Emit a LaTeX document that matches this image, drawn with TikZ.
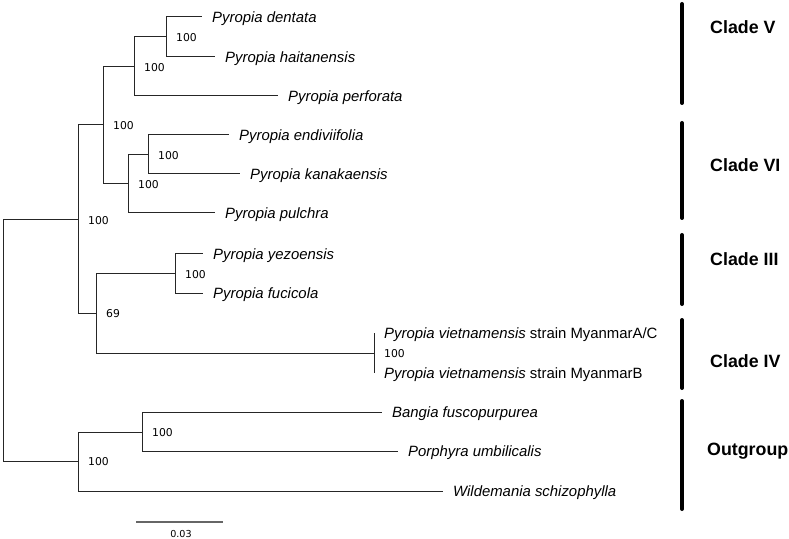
\documentclass[tikz,border=0pt]{standalone}
\usepackage{fontspec}
\setmainfont{Liberation Sans}
\newfontfamily\bootfont{DejaVu Sans}
\begin{document}
\begin{tikzpicture}[x=1bp,y=-1bp,
  branch/.style={draw=black!85,line width=1bp},
  scalebar/.style={draw=black!60,line width=2bp},
  leaf/.style={anchor=west,inner xsep=10bp,inner ysep=0bp,text height=10.7bp,text depth=0bp,font=\fontsize{14.9bp}{16bp}\selectfont\itshape},
  boot/.style={anchor=west,inner sep=0bp,xshift=10bp,yshift=-1bp,font=\fontsize{10.8bp}{12bp}\bootfont},
  cladebar/.style={line width=4bp,line cap=round,black},
  cladelab/.style={anchor=west,inner sep=0bp,font=\fontsize{17.8bp}{19bp}\selectfont\bfseries},
  scalelab/.style={inner sep=0bp,font=\fontsize{9.6bp}{11bp}\bootfont}]
\useasboundingbox (0,0) rectangle (789,539);
% internal nodes
\coordinate (root) at (3,340);
\coordinate (nIn) at (78,220);
\coordinate (nVVI) at (103,125);
\coordinate (nDHP) at (134,67);
\coordinate (nDH) at (166,37);
\coordinate (nEKP) at (128,184);
\coordinate (nEK) at (148,155);
\coordinate (nIIIIV) at (96,313);
\coordinate (nIII) at (175,274);
\coordinate (nViet) at (374,353);
\coordinate (nOut) at (78,461);
\coordinate (nBP) at (142,432);
% leaves
\node[leaf] (dent) at (202,17) {Pyropia dentata};
\node[leaf] (hait) at (215,57) {Pyropia haitanensis};
\node[leaf] (perf) at (278,96) {Pyropia perforata};
\node[leaf] (endi) at (229,135) {Pyropia endiviifolia};
\node[leaf] (kana) at (240,174) {Pyropia kanakaensis};
\node[leaf] (pulc) at (215,213) {Pyropia pulchra};
\node[leaf] (yezo) at (203,254) {Pyropia yezoensis};
\node[leaf] (fuci) at (203,293) {Pyropia fucicola};
\node[leaf] (vietA) at (374,333) {Pyropia vietnamensis\upshape{} strain MyanmarA/C};
\node[leaf] (vietB) at (374,373) {Pyropia vietnamensis\upshape{} strain MyanmarB};
\node[leaf] (bang) at (382,412) {Bangia fuscopurpurea};
\node[leaf] (porp) at (398,451) {Porphyra umbilicalis};
\node[leaf] (wild) at (443,491) {Wildemania schizophylla};
% branches
\draw[branch] (root) |- (nIn);
\draw[branch] (root) |- (nOut);
\draw[branch] (nIn) |- (nVVI);
\draw[branch] (nIn) |- (nIIIIV);
\draw[branch] (nVVI) |- (nDHP);
\draw[branch] (nVVI) |- (nEKP);
\draw[branch] (nDHP) |- (nDH);
\draw[branch] (nDHP) |- (perf.west);
\draw[branch] (nDH) |- (dent.west);
\draw[branch] (nDH) |- (hait.west);
\draw[branch] (nEKP) |- (nEK);
\draw[branch] (nEKP) |- (pulc.west);
\draw[branch] (nEK) |- (endi.west);
\draw[branch] (nEK) |- (kana.west);
\draw[branch] (nIIIIV) |- (nIII);
\draw[branch] (nIIIIV) |- (nViet);
\draw[branch] (nIII) |- (yezo.west);
\draw[branch] (nIII) |- (fuci.west);
\draw[branch] (nViet) |- (vietA.west);
\draw[branch] (nViet) |- (vietB.west);
\draw[branch] (nOut) |- (nBP);
\draw[branch] (nOut) |- (wild.west);
\draw[branch] (nBP) |- (bang.west);
\draw[branch] (nBP) |- (porp.west);
% bootstrap values
\node[boot] (bDH) at (nDH) {100};
\node[boot] (bDHP) at (nDHP) {100};
\node[boot] (bVVI) at (nVVI) {100};
\node[boot] (bEK) at (nEK) {100};
\node[boot] (bEKP) at (nEKP) {100};
\node[boot] (bIn) at (nIn) {100};
\node[boot] (bIII) at (nIII) {100};
\node[boot] (bIIIIV) at (nIIIIV) {69};
\node[boot] (bViet) at (nViet) {100};
\node[boot] (bBP) at (nBP) {100};
\node[boot] (bOut) at (nOut) {100};
% clade bars
\draw[cladebar] (682,4) -- (682,103);
\draw[cladebar] (682,123) -- (682,218);
\draw[cladebar] (682,235) -- (682,304);
\draw[cladebar] (682,320) -- (682,388);
\draw[cladebar] (682,401) -- (682,509);
\node[cladelab] (cV) at (710,27) {Clade V};
\node[cladelab] (cVI) at (710,165) {Clade VI};
\node[cladelab] (cIII) at (710,259) {Clade III};
\node[cladelab] (cIV) at (710,361) {Clade IV};
\node[cladelab] (cOut) at (707,451) {Outgroup};
% scale bar
\coordinate (sA) at (136,522);
\coordinate (sB) at (223,522);
\draw[scalebar] (sA) -- (sB);
\node[scalelab] (sL) at (181,534) {0.03};
\end{tikzpicture}
\end{document}
